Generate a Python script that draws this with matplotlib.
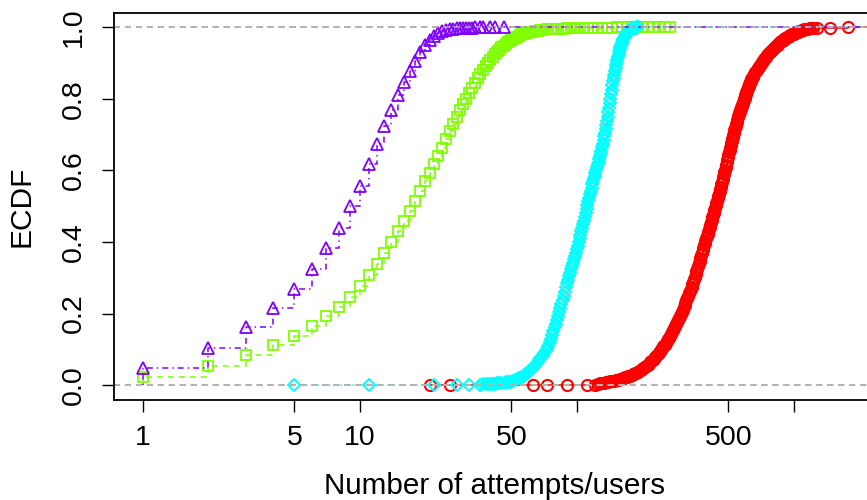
import numpy as np
import matplotlib
matplotlib.use("Agg")
import matplotlib.pyplot as plt

# ECDF knots (unique values) and ECDF heights
purple_x = [1, 2, 3, 4, 5, 6, 7, 8, 9, 10, 11, 12, 13, 14, 15, 16, 17, 18, 19, 20,
            21, 22, 23, 24, 25, 26, 27, 28, 29, 30, 31, 32, 33, 34, 36, 37, 40, 42, 46]
purple_F = [0.048, 0.104, 0.162, 0.216, 0.269, 0.325, 0.384, 0.440, 0.500, 0.557,
            0.618, 0.675, 0.725, 0.768, 0.810, 0.846, 0.878, 0.906, 0.930, 0.950,
            0.965, 0.976, 0.984, 0.989, 0.993, 0.995, 0.996, 0.997, 0.998, 0.9985,
            0.999, 0.9992, 0.9994, 0.9995, 0.9996, 0.9997, 0.9998, 0.9999, 1.0]

green_x = [1, 2, 3, 4, 5, 6, 7, 8, 9, 10, 11, 12, 13, 14, 15, 16, 17, 18, 19, 20,
           21, 22, 23, 24, 25, 26, 27, 28, 29, 30, 31, 32, 33, 34, 35, 36, 37, 38, 39, 40,
           41, 42, 43, 44, 45, 46, 47, 48, 49, 50, 51, 52, 53, 54, 55, 56, 57, 58, 59, 60,
           62, 64, 66, 68, 70, 73, 76, 79, 82, 86, 90, 94, 98, 103, 108, 113, 119, 125,
           131, 138, 145, 153, 161, 170, 180, 190, 200, 212, 225, 240, 255, 268]
green_F = [0.024, 0.054, 0.084, 0.112, 0.138, 0.165, 0.193, 0.219, 0.247, 0.277,
           0.308, 0.339, 0.370, 0.400, 0.430, 0.460, 0.487, 0.515, 0.543, 0.570,
           0.594, 0.619, 0.641, 0.664, 0.687, 0.709, 0.730, 0.750, 0.768, 0.785,
           0.801, 0.816, 0.830, 0.844, 0.858, 0.870, 0.881, 0.891, 0.900, 0.909,
           0.917, 0.925, 0.932, 0.938, 0.944, 0.949, 0.954, 0.958, 0.962, 0.965,
           0.968, 0.971, 0.974, 0.976, 0.978, 0.980, 0.982, 0.983, 0.985, 0.986,
           0.988, 0.989, 0.991, 0.992, 0.993, 0.994, 0.995, 0.9955, 0.996, 0.9965,
           0.997, 0.9975, 0.998, 0.9983, 0.9986, 0.9988, 0.999, 0.9991,
           0.9992, 0.9993, 0.9994, 0.9995, 0.9996, 0.9997, 0.9997, 0.9998, 0.9998,
           0.9999, 0.9999, 0.9999, 0.9999, 1.0]

cyan_x = [5, 11, 22, 28, 32, 36, 37,
          38, 39, 40, 41, 42, 43, 44, 45, 46, 47, 48, 49, 50, 51, 52, 53, 54, 55, 56, 57,
          58, 59, 60, 61, 62, 63, 64, 65, 66, 67, 68, 69, 70, 71, 72, 73, 74, 75, 76, 77,
          78, 79, 80, 81, 82, 83, 84, 85, 86, 87, 88, 89, 90, 91, 92, 93, 94, 95, 96, 97,
          98, 99, 100, 101, 102, 103, 104, 105, 106, 107, 108, 109, 110, 111, 112, 113,
          114, 115, 116, 117, 118, 119, 120, 121, 122, 123, 124, 125, 126, 127, 128, 129,
          130, 131, 132, 133, 134, 135, 136, 137, 138, 139, 140, 141, 142, 143, 144, 145,
          146, 147, 148, 149, 150, 151, 152, 153, 154, 155, 156, 157, 158, 159, 160, 161,
          162, 163, 164, 165, 166, 167, 168, 169, 170, 171, 172, 173, 174, 175, 176, 177,
          178, 179, 180, 181, 182, 183, 184, 185, 186, 187, 188, 189, 191]
cyan_F = [0.0003, 0.0006, 0.0009, 0.0012, 0.0015, 0.0018, 0.0021,
          0.0023, 0.0026, 0.0030, 0.0036, 0.0043, 0.0051, 0.0060, 0.0067, 0.0073, 0.0080,
          0.0087, 0.0093, 0.0100, 0.0122, 0.0143, 0.0165, 0.0187, 0.0208, 0.0230, 0.0268,
          0.0305, 0.0343, 0.0380, 0.0418, 0.0455, 0.0493, 0.0530, 0.0585, 0.0640, 0.0695,
          0.0750, 0.0800, 0.0850, 0.0900, 0.0950, 0.1000, 0.1100, 0.1200, 0.1300, 0.1400,
          0.1506, 0.1612, 0.1718, 0.1824, 0.1930, 0.2040, 0.2150, 0.2260, 0.2370, 0.2490,
          0.2610, 0.2730, 0.2850, 0.2946, 0.3042, 0.3138, 0.3234, 0.3330, 0.3424, 0.3518,
          0.3612, 0.3706, 0.3800, 0.3900, 0.4000, 0.4100, 0.4200, 0.4300, 0.4400, 0.4500,
          0.4600, 0.4700, 0.4813, 0.4925, 0.5038, 0.5150,
          0.5243, 0.5335, 0.5428, 0.5521, 0.5614, 0.5695, 0.5776, 0.5857, 0.5938, 0.6019,
          0.6100, 0.6175, 0.6250, 0.6325, 0.6400, 0.6475,
          0.6550, 0.6650, 0.6750, 0.6850, 0.6950, 0.7050, 0.7163, 0.7275, 0.7388, 0.7500,
          0.7625, 0.7750, 0.7875, 0.8000, 0.8125, 0.8250,
          0.8375, 0.8500, 0.8590, 0.8680, 0.8770, 0.8860, 0.8950, 0.9025, 0.9100, 0.9175,
          0.9250, 0.9325, 0.9400, 0.9447, 0.9493, 0.9540,
          0.9587, 0.9633, 0.9680, 0.9710, 0.9740, 0.9770, 0.9800, 0.9830, 0.9860, 0.9870,
          0.9880, 0.9890, 0.9900, 0.9910, 0.9920, 0.9930,
          0.9940, 0.9950, 0.9960, 0.9965, 0.9970, 0.9975, 0.9980, 0.9985, 0.9988, 0.9991,
          0.9994, 0.9996, 1.0]

red_x = [21, 26, 63, 73, 90, 111, 121,
         125, 128, 131, 134, 137, 140, 143, 146, 149, 152, 155, 158, 161, 164, 167, 170,
         173, 176, 179, 182, 185, 188, 191, 194, 197, 200, 203, 206, 209, 212, 215, 218,
         221, 224, 227, 230, 233, 236, 239, 242, 245, 248, 251, 254, 257, 260, 263, 266,
         269, 272, 275, 278, 281, 284, 287, 290, 293, 296, 299, 302, 305, 308, 311, 314,
         317, 320, 323, 326, 329, 332, 335, 338, 341, 344, 347, 350, 353, 356, 359, 362,
         365, 368, 371, 374, 377, 380, 383, 386, 389, 392, 395, 398, 401, 404, 407, 410,
         413, 416, 419, 422, 425, 428, 431, 434, 437, 440, 443, 446, 449, 452, 455, 458,
         461, 464, 467, 470, 473, 476, 479, 482, 485, 488, 491, 494, 497, 500, 503, 506,
         509, 512, 515, 518, 521, 524, 527, 530, 533, 536, 539, 542, 545, 548, 551, 554,
         557, 560, 563, 566, 569, 572, 575, 578, 581, 584, 587, 590, 593, 596, 599, 602,
         605, 608, 611, 614, 617, 620, 623, 626, 629, 632, 635, 638, 641, 644, 647, 650,
         658, 666, 674, 682, 690, 698, 706, 714, 722, 730, 738, 746, 754, 762, 770, 778,
         786, 794, 802, 810, 818, 826, 834, 842, 850, 858, 866, 874, 882, 890, 898, 906,
         914, 922, 930, 938, 946, 954, 962, 970, 978, 986, 994, 1002,
         1015, 1030, 1045, 1060, 1075, 1090, 1105, 1120, 1140, 1160, 1186, 1200, 1225,
         1276, 1465, 1774]
red_F = [0.0002, 0.0004, 0.0006, 0.0008, 0.0010, 0.0012, 0.0015,
         0.0040, 0.0050, 0.0060, 0.0070, 0.0080, 0.0090, 0.0103, 0.0117, 0.0130, 0.0143,
         0.0157, 0.0170, 0.0186, 0.0203, 0.0219, 0.0235,
         0.0252, 0.0268, 0.0285, 0.0305, 0.0328, 0.0351, 0.0374, 0.0397, 0.0420, 0.0442,
         0.0472, 0.0505, 0.0537, 0.0570, 0.0603, 0.0635,
         0.0668, 0.0703, 0.0744, 0.0784, 0.0825, 0.0865, 0.0906, 0.0946, 0.0987, 0.1033,
         0.1083, 0.1132, 0.1182, 0.1232, 0.1281, 0.1331,
         0.1381, 0.1430, 0.1484, 0.1538, 0.1593, 0.1647, 0.1701, 0.1755, 0.1810, 0.1864,
         0.1921, 0.1985, 0.2050, 0.2114, 0.2178, 0.2242,
         0.2306, 0.2370, 0.2434, 0.2498, 0.2562, 0.2626, 0.2690, 0.2754, 0.2817, 0.2885,
         0.2959, 0.3033, 0.3107, 0.3182, 0.3256, 0.3330,
         0.3404, 0.3478, 0.3553, 0.3627, 0.3701, 0.3775, 0.3843, 0.3907, 0.3971, 0.4035,
         0.4099, 0.4163, 0.4227, 0.4292, 0.4358, 0.4423,
         0.4489, 0.4555, 0.4620, 0.4686, 0.4752, 0.4820, 0.4887, 0.4954, 0.5021, 0.5088,
         0.5155, 0.5222, 0.5288, 0.5353, 0.5419, 0.5485,
         0.5550, 0.5616, 0.5683, 0.5751, 0.5820, 0.5889, 0.5957, 0.6026, 0.6094, 0.6163,
         0.6232, 0.6301, 0.6370, 0.6439, 0.6508, 0.6577,
         0.6640, 0.6700, 0.6760, 0.6820, 0.6880, 0.6940, 0.7000, 0.7060, 0.7120, 0.7180,
         0.7240, 0.7300, 0.7360, 0.7420, 0.7480, 0.7526,
         0.7566, 0.7605, 0.7645, 0.7684, 0.7724, 0.7763, 0.7803, 0.7842, 0.7882, 0.7921,
         0.7961, 0.8000, 0.8037, 0.8075, 0.8112, 0.8149,
         0.8186, 0.8224, 0.8261, 0.8298, 0.8336, 0.8373, 0.8410, 0.8448, 0.8476, 0.8500,
         0.8523, 0.8547, 0.8571, 0.8594, 0.8618, 0.8642,
         0.8704, 0.8756, 0.8803, 0.8851, 0.8898, 0.8945, 0.8984, 0.9024, 0.9063, 0.9102,
         0.9141, 0.9180, 0.9216, 0.9248, 0.9280, 0.9312,
         0.9344, 0.9376, 0.9405, 0.9428, 0.9450, 0.9472, 0.9494, 0.9516, 0.9538, 0.9560,
         0.9582, 0.9604, 0.9624, 0.9640, 0.9656, 0.9673,
         0.9689, 0.9705, 0.9721, 0.9737, 0.9754, 0.9770, 0.9783, 0.9792, 0.9800, 0.9809,
         0.9818, 0.9826,
         0.9840, 0.9856, 0.9872, 0.9889, 0.9903, 0.9915, 0.9927, 0.9939, 0.9951, 0.9961,
         0.9970, 0.9973, 0.9977,
         0.9985, 0.9993, 1.0]

x_ticks = [1, 5, 10, 50, 100, 500, 1000]
x_tick_labels = ["1", "5", "10", "50", "", "500", ""]
y_ticks = [0.0, 0.2, 0.4, 0.6, 0.8, 1.0]
y_tick_labels = ["0.0", "0.2", "0.4", "0.6", "0.8", "1.0"]

plt.rcParams['font.family'] = ['Liberation Sans', 'DejaVu Sans']
plt.rcParams['lines.scale_dashes'] = False

fig = plt.figure(figsize=(8.67, 5), dpi=100)
ax = fig.add_axes([114.5 / 867, 100.5 / 500, 761.5 / 867, 386.5 / 500])
ax.set_xscale('log')
xlo, xhi = 10 ** -0.13, 10 ** 3.379
ax.set_xlim(xlo, xhi)
ax.set_ylim(-0.04, 1.04)

gray_dash = (0, (4.3, 3.6))
series = [
    (red_x, red_F, '#FF0000', 'o', 8.0, 1.5, '-'),
    (green_x, green_F, '#80FF00', 's', 6.6, 1.3, (0, (4.3, 3.6))),
    (cyan_x, cyan_F, '#00FFFF', 'D', 6.6, 1.4, (0, (1.0, 3.2))),
    (purple_x, purple_F, '#8000FF', '^', 9.0, 1.3, (0, (1.0, 2.9, 4.3, 2.9))),
]

for xs, fs, col, mk, ms, mew, ls in series:
    # like plot.ecdf on a log axis: the y=0 run left of the first knot is dropped,
    # the y=1 run after the last knot goes on to the right edge
    sx = np.concatenate([[xs[0]], xs, [xhi]])
    sy = np.concatenate([[0.0], fs, [fs[-1]]])
    ax.step(sx, sy, where='post', color=col, lw=1.1, ls=ls)
    ax.plot(xs, fs, ls='none', marker=mk, ms=ms, mfc='none', mec=col, mew=mew)
    ax.axhline(0, color='#B3B3B3', lw=1.1, ls=gray_dash)
    ax.axhline(1, color='#B3B3B3', lw=1.1, ls=gray_dash)

ax.set_xticks(x_ticks)
ax.set_xticklabels(x_tick_labels)
ax.xaxis.set_minor_locator(matplotlib.ticker.NullLocator())
ax.set_yticks(y_ticks)
ax.set_yticklabels(y_tick_labels, rotation=90, va='center')

for sp in ax.spines.values():
    sp.set_linewidth(1.3)
ax.spines['right'].set_visible(False)
ax.tick_params(axis='both', direction='out', length=8.6, width=1.0, labelsize=20.5)
ax.tick_params(axis='x', pad=10)
ax.tick_params(axis='y', pad=11.5)

fig.text(495 / 867, 6 / 500, 'Number of attempts/users', fontsize=21.3,
         ha='center', va='baseline')
fig.text(21.5 / 867, 1 - 206.5 / 500, 'ECDF', fontsize=21.5, rotation=90,
         ha='center', va='center')

fig.savefig('out.png', dpi=100)
